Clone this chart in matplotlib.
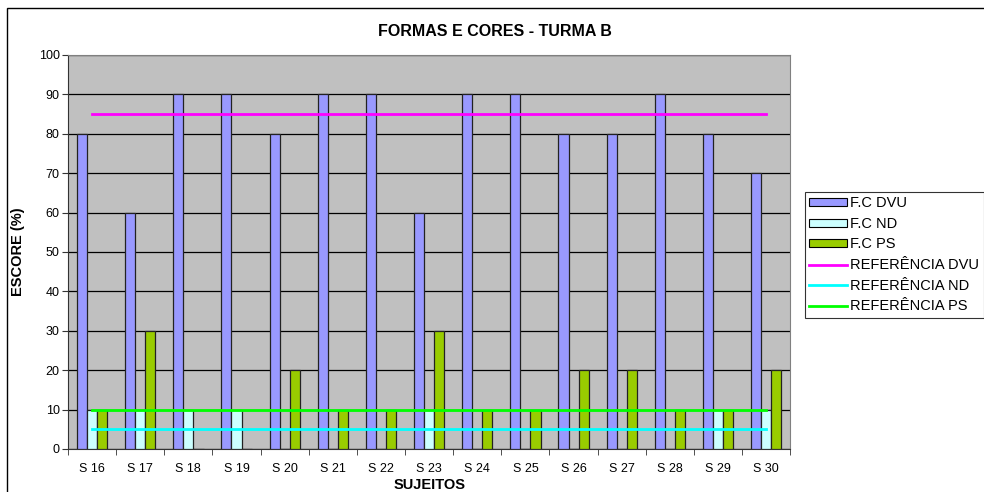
import numpy as np
import matplotlib
matplotlib.use("Agg")
import matplotlib.pyplot as plt
from matplotlib.patches import Patch, Rectangle
from matplotlib.lines import Line2D

SUJEITOS = ["S 16", "S 17", "S 18", "S 19", "S 20", "S 21", "S 22", "S 23",
            "S 24", "S 25", "S 26", "S 27", "S 28", "S 29", "S 30"]
FC_DVU = [80, 60, 90, 90, 80, 90, 90, 60, 90, 90, 80, 80, 90, 80, 70]
FC_ND = [10, 10, 10, 10, 0, 0, 0, 10, 0, 0, 0, 0, 0, 10, 10]
FC_PS = [10, 30, 0, 0, 20, 10, 10, 30, 10, 10, 20, 20, 10, 10, 20]
REF_DVU = [85] * len(SUJEITOS)
REF_ND = [5] * len(SUJEITOS)
REF_PS = [10] * len(SUJEITOS)

plt.rcParams.update({"font.family": ["Liberation Sans", "DejaVu Sans"]})

fig = plt.figure(figsize=(9.84, 4.92), dpi=100)
ax = fig.add_axes([0.0691, 0.0874, 0.734, 0.801])

# outer chart frame
fig.patches.append(Rectangle((7 / 984, -0.01), 1.0, 1 - 8 / 492 + 0.01,
                             transform=fig.transFigure, fill=False,
                             edgecolor="black", lw=1.0))

x = np.arange(len(SUJEITOS))
w = 0.21
bar_kw = dict(width=w, edgecolor="#222222", linewidth=0.9, zorder=3)
ax.bar(x - w, FC_DVU, color="#9999FF", label="F.C DVU", **bar_kw)
ax.bar(x, FC_ND, color="#CCFFFF", label="F.C ND", **bar_kw)
ax.bar(x + w, FC_PS, color="#99CC00", label="F.C PS", **bar_kw)

ax.plot(x, REF_DVU, color="#FF00FF", lw=2, zorder=4)
ax.plot(x, REF_ND, color="#00FFFF", lw=2, zorder=4)
ax.plot(x, REF_PS, color="#00FF00", lw=2, zorder=4)

ax.set_facecolor("#C0C0C0")
ax.set_xlim(-0.5, len(SUJEITOS) - 0.5)
ax.set_ylim(0, 100)
ax.set_yticks(np.arange(0, 101, 10))
ax.yaxis.grid(True, color="black", lw=0.9, zorder=1)
ax.set_axisbelow(True)
ax.set_xticks(x)
ax.set_xticklabels(SUJEITOS)
ax.set_xticks(np.arange(-0.5, len(SUJEITOS), 1), minor=True)
ax.tick_params(axis="x", which="major", length=0, labelsize=9, pad=10)
ax.tick_params(axis="x", which="minor", length=4, color="#333333")
ax.tick_params(axis="y", length=4, labelsize=9, color="#333333", pad=2)
for sp in ax.spines.values():
    sp.set_color("#808080")
ax.spines["left"].set_color("#333333")
ax.spines["bottom"].set_color("#333333")

ax.set_ylabel("ESCORE (%)", fontsize=10.5, fontweight="bold", labelpad=10)
ax.set_xlabel("SUJEITOS", fontsize=10.5, fontweight="bold", labelpad=2)
fig.text(0.503, 0.935, "FORMAS E CORES - TURMA B", ha="center", va="center",
         fontsize=11.5, fontweight="bold")

handles = [
    Patch(facecolor="#9999FF", edgecolor="black", lw=0.8, label="F.C DVU"),
    Patch(facecolor="#CCFFFF", edgecolor="black", lw=0.8, label="F.C ND"),
    Patch(facecolor="#99CC00", edgecolor="black", lw=0.8, label="F.C PS"),
    Line2D([0], [0], color="#FF00FF", lw=2, label="REFERÊNCIA DVU"),
    Line2D([0], [0], color="#00FFFF", lw=2, label="REFERÊNCIA ND"),
    Line2D([0], [0], color="#00FF00", lw=2, label="REFERÊNCIA PS"),
]
leg = fig.legend(handles=handles, loc="upper left",
                 bbox_to_anchor=(805 / 984, 1 - 192 / 492),
                 fontsize=10.5, frameon=True, fancybox=False, borderpad=0.3,
                 labelspacing=0.45, handlelength=2.6, handleheight=0.45,
                 handletextpad=0.2, borderaxespad=0)
leg.get_frame().set_edgecolor("black")
leg.get_frame().set_linewidth(0.8)

fig.savefig("out.png", dpi=100, facecolor="white")
